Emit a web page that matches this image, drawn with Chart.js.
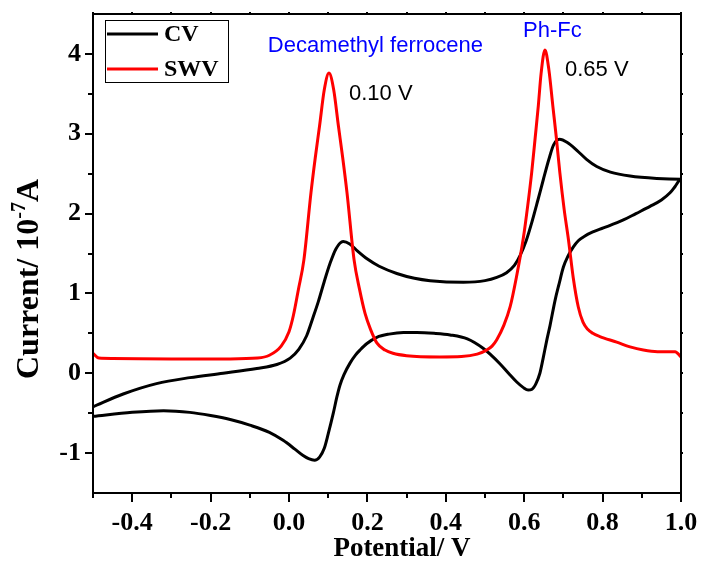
<!DOCTYPE html>
<html>
<head>
<meta charset="utf-8">
<script src="https://cdn.jsdelivr.net/npm/chart.js@4.4.1/dist/chart.umd.min.js"></script>
<style>
  html, body { margin: 0; padding: 0; background: #fff; }
  canvas { display: block; }
</style>
</head>
<body>
<canvas id="chart" width="701" height="565"></canvas>
<script>
'use strict';

// SWV trace: potential (V) / current (10^-7 A)
const swvX = [-0.500, -0.485, -0.450, -0.300, -0.150, -0.080, -0.050, -0.020, 0.000, 0.011,
  0.024, 0.038, 0.056, 0.067, 0.078, 0.090, 0.102, 0.114, 0.126, 0.137,
  0.148, 0.166, 0.180, 0.194, 0.208, 0.224, 0.245, 0.265, 0.300, 0.385,
  0.440, 0.480, 0.504, 0.518, 0.530, 0.548, 0.564, 0.580, 0.598, 0.609,
  0.619, 0.628, 0.636, 0.643, 0.653, 0.663, 0.673, 0.682, 0.691, 0.702,
  0.713, 0.725, 0.738, 0.750, 0.762, 0.775, 0.793, 0.836, 0.870, 0.904,
  0.940, 0.985, 1.000];
const swvY = [0.25, 0.19, 0.185, 0.18, 0.18, 0.19, 0.225, 0.34, 0.52, 0.72,
  1.05, 1.42, 2.26, 2.70, 3.10, 3.55, 3.76, 3.55, 3.10, 2.70,
  2.26, 1.42, 1.05, 0.75, 0.55, 0.38, 0.29, 0.25, 0.22, 0.205,
  0.21, 0.24, 0.29, 0.34, 0.42, 0.60, 0.83, 1.20, 1.70, 2.10,
  2.51, 2.95, 3.35, 3.75, 4.05, 3.80, 3.35, 2.95, 2.51, 2.05,
  1.67, 1.20, 0.83, 0.64, 0.55, 0.50, 0.46, 0.39, 0.33, 0.29,
  0.27, 0.27, 0.205];

// CV loop: forward sweep then reverse sweep
const cvX = [-0.500, -0.423, -0.338, -0.253, -0.168, -0.082, -0.031, 0.003, 0.025, 0.045,
  0.060, 0.075, 0.090, 0.105, 0.120, 0.138, 0.155, 0.175, 0.200, 0.230,
  0.275, 0.320, 0.360, 0.445, 0.500, 0.530, 0.555, 0.575, 0.590, 0.605,
  0.620, 0.635, 0.649, 0.663, 0.675, 0.690, 0.710, 0.735, 0.759, 0.785,
  0.820, 0.870, 0.938, 1.000,
  0.985, 0.972, 0.950, 0.921, 0.885, 0.853, 0.802, 0.775, 0.755, 0.738,
  0.725, 0.712, 0.700, 0.689, 0.679, 0.666, 0.657, 0.648, 0.640, 0.630,
  0.620, 0.610, 0.598, 0.581, 0.560, 0.538, 0.515, 0.496, 0.455, 0.411,
  0.370, 0.326, 0.292, 0.255, 0.224, 0.198, 0.181, 0.170, 0.156, 0.140,
  0.130, 0.122, 0.113, 0.100, 0.090, 0.078, 0.065, 0.050, 0.036, 0.015,
  -0.015, -0.050, -0.100, -0.150, -0.200, -0.253, -0.320, -0.400, -0.500];
const cvY = [-0.42, -0.26, -0.13, -0.055, 0.00, 0.06, 0.11, 0.19, 0.30, 0.47,
  0.68, 0.90, 1.15, 1.38, 1.56, 1.65, 1.62, 1.53, 1.43, 1.34,
  1.25, 1.19, 1.16, 1.14, 1.16, 1.20, 1.26, 1.35, 1.48, 1.66,
  1.90, 2.17, 2.43, 2.68, 2.86, 2.93, 2.89, 2.79, 2.68, 2.59,
  2.52, 2.47, 2.44, 2.43,
  2.34, 2.26, 2.17, 2.09, 2.00, 1.92, 1.82, 1.77, 1.72, 1.66,
  1.58, 1.47, 1.33, 1.12, 0.92, 0.60, 0.40, 0.18, 0.00, -0.13,
  -0.20, -0.21, -0.18, -0.11, 0.00, 0.12, 0.23, 0.31, 0.43, 0.48,
  0.50, 0.51, 0.51, 0.49, 0.45, 0.37, 0.29, 0.23, 0.13, -0.02,
  -0.15, -0.30, -0.50, -0.76, -0.94, -1.05, -1.09, -1.07, -1.03, -0.95,
  -0.84, -0.74, -0.65, -0.58, -0.53, -0.49, -0.47, -0.49, -0.54];

const xTicks = [-0.4, -0.2, 0.0, 0.2, 0.4, 0.6, 0.8, 1.0];
const xMinorTicks = [-0.5, -0.3, -0.1, 0.1, 0.3, 0.5, 0.7, 0.9];
const yTicks = [-1, 0, 1, 2, 3, 4];
const yMinorTicks = [-0.5, 0.5, 1.5, 2.5, 3.5];

// text notes placed in data coordinates
const notes = [
  { text: 'Decamethyl ferrocene', x: -0.054, y: 4.10, color: '#0000ff' },
  { text: 'Ph-Fc',                x: 0.597,  y: 4.29, color: '#0000ff' },
  { text: '0.10 V',               x: 0.153,  y: 3.50, color: '#000000' },
  { text: '0.65 V',               x: 0.704,  y: 3.80, color: '#000000' }
];

const serif = "'Liberation Serif', 'Times New Roman', serif";
const sans  = "'Liberation Sans', Arial, sans-serif";

const toPoints = (xs, ys) => xs.map((v, i) => ({ x: v, y: ys[i] }));

// frame with ticks on all four sides
const framePlugin = {
  id: 'frame',
  afterDatasetsDraw(chart) {
    const { ctx, chartArea: a, scales: { x, y } } = chart;
    ctx.save();
    ctx.strokeStyle = '#000';
    ctx.lineWidth = 2;
    ctx.strokeRect(a.left, a.top, a.right - a.left, a.bottom - a.top);

    ctx.beginPath();
    const xt = (vals, len) => vals.forEach(v => {
      const px = Math.round(x.getPixelForValue(v));
      ctx.moveTo(px, a.bottom); ctx.lineTo(px, a.bottom + len);
      ctx.moveTo(px, a.top);    ctx.lineTo(px, a.top - 2);
    });
    const yt = (vals, len) => vals.forEach(v => {
      const py = Math.round(y.getPixelForValue(v));
      ctx.moveTo(a.left, py);  ctx.lineTo(a.left - len, py);
      ctx.moveTo(a.right, py); ctx.lineTo(a.right + 2, py);
    });
    xt(xTicks, 9); xt(xMinorTicks, 5);
    yt(yTicks, 8); yt(yMinorTicks, 5);
    ctx.stroke();
    ctx.restore();
  }
};

// boxed legend in the upper left corner
const legendPlugin = {
  id: 'boxLegend',
  afterDraw(chart) {
    const { ctx } = chart;
    const sets = [chart.data.datasets[0], chart.data.datasets[1]];
    ctx.save();
    ctx.strokeStyle = '#000';
    ctx.lineWidth = 1;
    ctx.strokeRect(105.5, 20.5, 123, 62);
    ctx.font = `bold 24px ${serif}`;
    ctx.textBaseline = 'middle';
    ctx.fillStyle = '#000';
    sets.forEach((ds, i) => {
      const ly = 34 + i * 35;
      ctx.strokeStyle = ds.borderColor;
      ctx.lineWidth = 3;
      ctx.beginPath();
      ctx.moveTo(107, ly); ctx.lineTo(158, ly);
      ctx.stroke();
      ctx.fillText(ds.label, 164, ly + 1);
    });
    ctx.restore();
  }
};

// notes and axis titles
const textPlugin = {
  id: 'texts',
  afterDraw(chart) {
    const { ctx, scales: { x, y } } = chart;
    ctx.save();
    ctx.textBaseline = 'middle';
    ctx.textAlign = 'left';
    ctx.font = `22px ${sans}`;
    notes.forEach(n => {
      ctx.fillStyle = n.color;
      ctx.fillText(n.text, x.getPixelForValue(n.x), y.getPixelForValue(n.y));
    });

    ctx.fillStyle = '#000';
    ctx.textAlign = 'center';
    ctx.font = `bold 27px ${serif}`;
    ctx.fillText('Potential/ V', 402, 549);

    // y title with superscript
    ctx.translate(30, 279);
    ctx.rotate(-Math.PI / 2);
    ctx.textAlign = 'left';
    const big = `bold 32px ${serif}`, small = `bold 20px ${serif}`;
    ctx.font = big;   const w1 = ctx.measureText('Current/ 10').width;
    ctx.font = small; const w2 = ctx.measureText('-7').width;
    ctx.font = big;   const w3 = ctx.measureText('A').width;
    let cx = -(w1 + w2 + w3) / 2;
    ctx.font = big;   ctx.fillText('Current/ 10', cx, 0); cx += w1;
    ctx.font = small; ctx.fillText('-7', cx, -10);        cx += w2;
    ctx.font = big;   ctx.fillText('A', cx, 0);
    ctx.restore();
  }
};

const tickFont = { family: serif, size: 26, weight: 'bold' };

new Chart(document.getElementById('chart'), {
  type: 'scatter',
  data: {
    datasets: [
      {
        label: 'CV',
        data: toPoints(cvX, cvY),
        borderColor: '#000000',
        borderWidth: 3,
        showLine: true,
        pointRadius: 0,
        cubicInterpolationMode: 'monotone',
        order: 1
      },
      {
        label: 'SWV',
        data: toPoints(swvX, swvY),
        borderColor: '#ff0000',
        borderWidth: 3,
        showLine: true,
        pointRadius: 0,
        cubicInterpolationMode: 'monotone',
        order: 0
      }
    ]
  },
  options: {
    responsive: false,
    animation: false,
    devicePixelRatio: 1,
    layout: { padding: { top: 14, right: 20, left: 0, bottom: 0 } },
    plugins: { legend: { display: false }, tooltip: { enabled: false } },
    scales: {
      x: {
        type: 'linear',
        min: -0.5, max: 1.0,
        grid: { display: false, drawTicks: false },
        border: { display: false },
        afterBuildTicks: s => { s.ticks = xTicks.map(v => ({ value: v })); },
        afterFit: s => { s.height = 72; s.paddingLeft = 0; s.paddingRight = 0; },
        ticks: { padding: 15, color: '#000', font: tickFont, callback: v => v.toFixed(1) }
      },
      y: {
        type: 'linear',
        min: -1.5, max: 4.5,
        grid: { display: false, drawTicks: false },
        border: { display: false },
        afterBuildTicks: s => { s.ticks = yTicks.map(v => ({ value: v })); },
        afterFit: s => { s.width = 93; s.paddingTop = 0; s.paddingBottom = 0; },
        ticks: { padding: 12, color: '#000', font: tickFont, callback: v => String(v) }
      }
    }
  },
  plugins: [framePlugin, legendPlugin, textPlugin]
});
</script>
</body>
</html>
